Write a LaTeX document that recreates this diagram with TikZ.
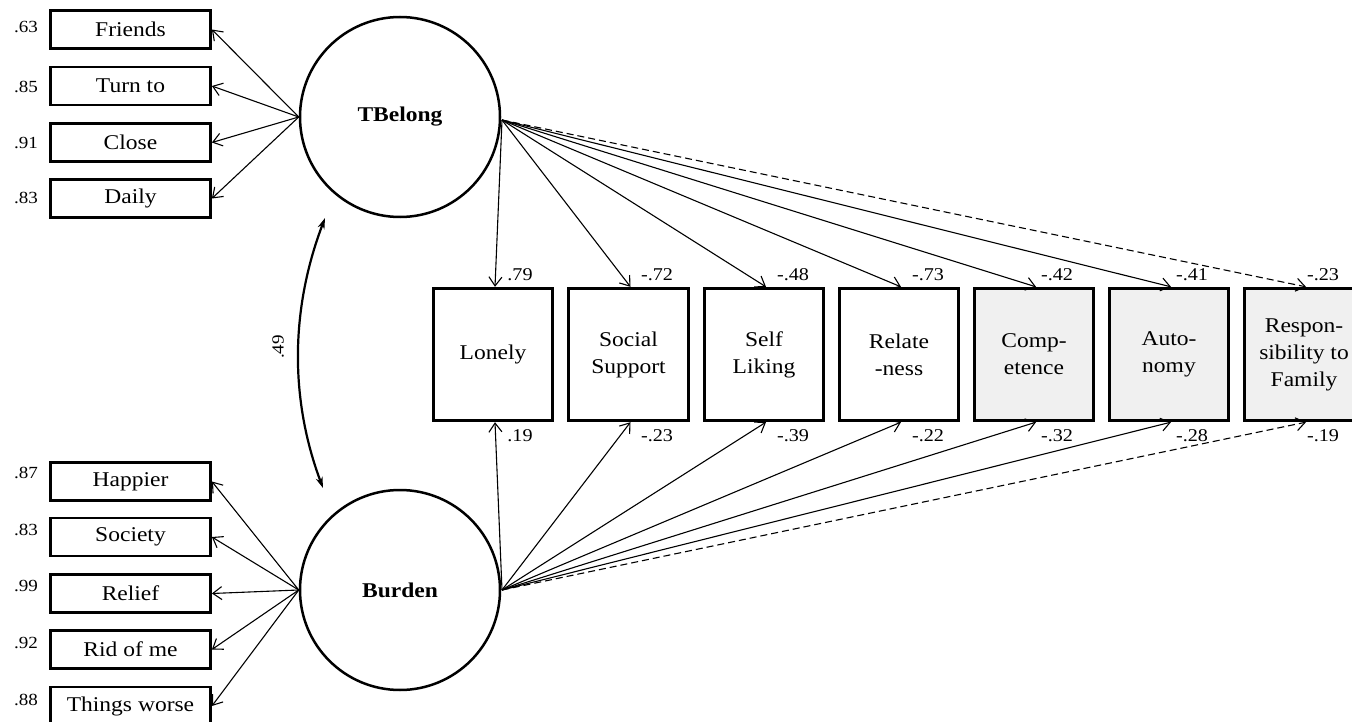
\documentclass[tikz,border=0pt]{standalone}
\usepackage{fontspec}
\setmainfont[FakeStretch=1.12]{Liberation Serif}
\usetikzlibrary{arrows.meta}
\definecolor{boxgray}{HTML}{F0F0F0}
\begin{document}
\begin{tikzpicture}[x=1pt,y=-1pt,
  ind/.style={draw, line width=2.8pt, minimum width=160pt, minimum height=38pt, inner sep=0pt,
    font=\fontsize{21}{25}\selectfont},
  outc/.style={draw, line width=2.8pt, minimum width=119.5pt, minimum height=132.5pt, inner sep=0pt,
    align=center, font=\fontsize{21}{27}\selectfont},
  grayout/.style={outc, fill=boxgray},
  latent/.style={draw, circle, line width=2.5pt, minimum size=200pt, inner sep=0pt,
    font=\bfseries\fontsize{21}{25}\selectfont},
  coef/.style={inner sep=0pt, font=\fontsize{18}{21}\selectfont},
  load/.style={inner sep=0pt, font=\fontsize{17}{20}\selectfont},
  path/.style={line width=1.1pt, -{Straight Barb[length=9pt,width=13pt,line width=1.1pt]}},
  dpath/.style={path, dash pattern=on 7pt off 4pt},
  cov/.style={line width=2.2pt, {Stealth[length=11pt,width=7pt]}-{Stealth[length=11pt,width=7pt]}}
]
\useasboundingbox (0,0) rectangle (1352,722);

% latent variables
\node[latent] (tb) at (400,117) {TBelong};
\node[latent] (bu) at (400,590) {Burden};

% indicators of TBelong
\node[ind] (f1) at (130.5,29.5) {Friends};
\node[ind] (f2) at (130.5,86) {Turn to};
\node[ind] (f3) at (130.5,142.5) {Close};
\node[ind] (f4) at (130.5,198.5) {Daily};
\node[load] (lf1) at (26,27) {.63};
\node[load] (lf2) at (26,87) {.85};
\node[load] (lf3) at (26,143) {.91};
\node[load] (lf4) at (26,198) {.83};

% indicators of Burden
\node[ind] (b1) at (130.5,481.5) {Happier};
\node[ind] (b2) at (130.5,537) {Society};
\node[ind] (b3) at (130.5,593.5) {Relief};
\node[ind] (b4) at (130.5,649.5) {Rid of me};
\node[ind] (b5) at (130.5,706) {Things worse};
\node[load] (lb1) at (26,473) {.87};
\node[load] (lb2) at (26,530) {.83};
\node[load] (lb3) at (26,586) {.99};
\node[load] (lb4) at (26,643) {.92};
\node[load] (lb5) at (26,700) {.88};

\foreach \i in {1,...,4} \draw[path] (tb.west) -- (f\i.east);
\foreach \i in {1,...,5} \draw[path] (bu.west) -- (b\i.east);

% outcomes
\node[outc] (o1) at (493,354.5) {Lonely};
\node[outc] (o2) at (628.5,354.5) {Social\\Support};
\node[outc] (o3) at (764,354.5) {Self\\Liking};
\node[outc] (o4) at (899,354.5) {Relate\\-ness};
\node[grayout] (o5) at (1034,354.5) {Comp-\\etence};
\node[grayout] (o6) at (1169,354.5) {Auto-\\nomy};
\node[grayout] (o7) at (1304,354.5) {Respon-\\sibility to\\Family};

\coordinate (tbout) at (502,120);
\coordinate (buout) at (502,590);
\foreach \i in {1,...,6} {
  \draw[path] (tbout) -- ([xshift=2pt]o\i.north);
  \draw[path] (buout) -- ([xshift=2pt]o\i.south);
}
\draw[dpath] (tbout) -- ([xshift=2pt]o7.north);
\draw[dpath] (buout) -- ([xshift=2pt]o7.south);

% coefficients
\foreach \x/\t/\b [count=\k] in {520/.79/.19, 657/-.72/-.23, 793/-.48/-.39, 928/-.73/-.22,
    1057/-.42/-.32, 1192/-.41/-.28, 1323/-.23/-.19} {
  \node[coef] (ct\k) at (\x,275) {\t};
  \node[coef] (cb\k) at (\x,436) {\b};
}

% covariance
\coordinate (covtop) at (325,218);
\coordinate (covbot) at (323,488);
\draw[cov] (covtop) .. controls (290,310) and (290,400) .. (covbot);
\node[load, rotate=90] (covlab) at (278,347) {.49};
\end{tikzpicture}
\end{document}
